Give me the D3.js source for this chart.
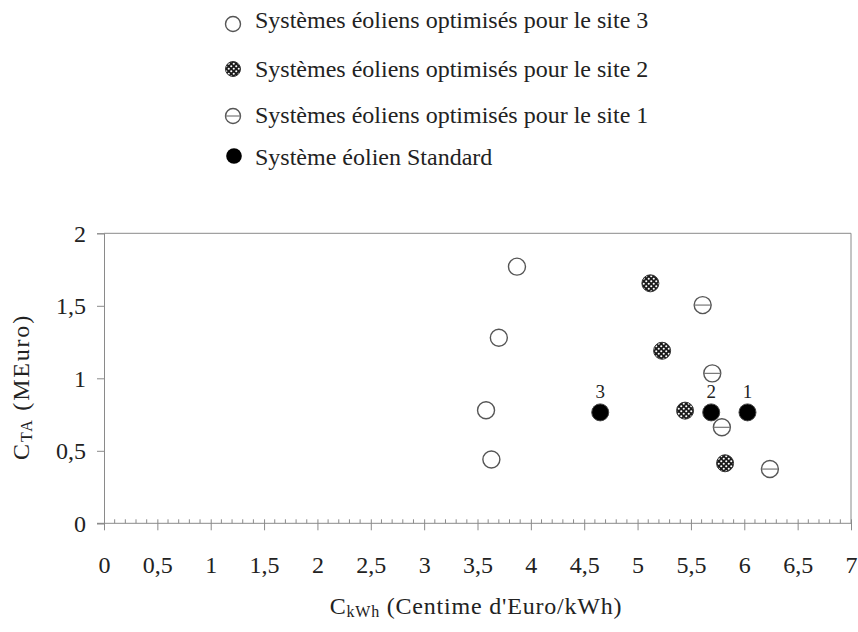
<!DOCTYPE html>
<html><head><meta charset="utf-8">
<script src="https://cdn.jsdelivr.net/npm/d3@7"></script>
<style>body{margin:0;background:#fff}svg{display:block}svg text{font-family:'Liberation Serif',serif !important;fill:#222}</style>
</head><body><svg id="c" width="858" height="632"></svg>
<script>
const xTicks = [0,0.5,1,1.5,2,2.5,3,3.5,4,4.5,5,5.5,6,6.5,7];
const yTicks = [0,0.5,1,1.5,2];
const site3X = [3.87,3.70,3.58,3.63];
const site3Y = [1.77,1.28,0.78,0.44];
const site2X = [5.12,5.23,5.445,5.82];
const site2Y = [1.655,1.19,0.777,0.414];
const site1X = [5.61,5.70,5.79,6.24];
const site1Y = [1.505,1.034,0.662,0.374];
const stdX = [4.65,5.69,6.03];
const stdY = [0.765,0.765,0.765];
const stdLabels = ["3","2","1"];
const legendLabels = ["Systèmes éoliens optimisés pour le site 3","Systèmes éoliens optimisés pour le site 2","Systèmes éoliens optimisés pour le site 1","Système éolien Standard"];

const svg = d3.select("#c");
const fmt = d => String(d).replace(".", ",");
const x = d3.scaleLinear().domain([0,7]).range([104,851]);
const y = d3.scaleLinear().domain([0,2]).range([523.3,233.3]);
const AX = "#8a8a8a";

const defs = svg.append("defs");
const pat = defs.append("pattern").attr("id","dots").attr("patternUnits","userSpaceOnUse")
  .attr("width",5).attr("height",5);
pat.append("rect").attr("width",5).attr("height",5).attr("fill","#1a1a1a");
pat.append("circle").attr("cx",1.25).attr("cy",1.25).attr("r",1.05).attr("fill","#fff");
pat.append("circle").attr("cx",3.75).attr("cy",3.75).attr("r",1.05).attr("fill","#fff");

// frame: top & right
svg.append("line").attr("x1",x(0)).attr("x2",x(7)).attr("y1",y(2)).attr("y2",y(2)).attr("stroke",AX);
svg.append("line").attr("x1",x(7)).attr("x2",x(7)).attr("y1",y(2)).attr("y2",y(0)).attr("stroke",AX);

// y axis
const ya = svg.append("g").attr("transform",`translate(${x(0)},0)`)
  .call(d3.axisLeft(y).tickValues(yTicks).tickFormat(fmt).tickSize(7).tickPadding(11));
ya.select(".domain").attr("stroke",AX);
ya.selectAll(".tick line").attr("stroke",AX);
ya.selectAll("text").attr("font-size",24).attr("dy","0.33em");

// x axis minor ticks
const minor = d3.range(0,71).map(i=>i/10).filter(v=>Math.round(v*10)%5!==0);
svg.append("g").selectAll("line").data(minor).join("line")
  .attr("x1",d=>x(d)).attr("x2",d=>x(d)).attr("y1",y(0)-4).attr("y2",y(0))
  .attr("stroke",AX);
const xa = svg.append("g").attr("transform",`translate(0,${y(0)})`)
  .call(d3.axisBottom(x).tickValues(xTicks).tickFormat(fmt).tickSize(7).tickPadding(0));
xa.select(".domain").attr("stroke",AX).attr("d",`M${x(0)-7},0H${x(7)}`);
xa.selectAll(".tick line").attr("stroke",AX).attr("y1",-4);
xa.selectAll("text").attr("font-size",24).attr("y",49.5).attr("dy",null);

// axis titles
const xt = svg.append("text").attr("x",476).attr("y",614).attr("text-anchor","middle")
  .attr("font-size",24).attr("letter-spacing",0.8);
xt.append("tspan").text("C");
xt.append("tspan").attr("font-size",16).attr("dy",3).text("kWh");
xt.append("tspan").attr("dy",-3).text(" (Centime d'Euro/kWh)");
const yt = svg.append("text").attr("transform","translate(29,387) rotate(-90)").attr("text-anchor","middle")
  .attr("font-size",24).attr("letter-spacing",1.8);
yt.append("tspan").text("C");
yt.append("tspan").attr("font-size",16).attr("dy",3).text("TA");
yt.append("tspan").attr("dy",-3).text(" (MEuro)");

const R = 8.5;
function open(g){ g.attr("fill","#fff").attr("stroke","#555").attr("stroke-width",1.4); }
svg.append("g").selectAll("circle").data(site3X).join("circle")
  .attr("cx",d=>x(d)).attr("cy",(d,i)=>y(site3Y[i])).attr("r",R).call(open);
svg.append("g").selectAll("circle").data(site2X).join("circle")
  .attr("cx",d=>x(d)).attr("cy",(d,i)=>y(site2Y[i])).attr("r",R)
  .attr("fill","url(#dots)").attr("stroke","#333").attr("stroke-width",1);
svg.append("g").selectAll("circle").data(stdX).join("circle")
  .attr("cx",d=>x(d)).attr("cy",(d,i)=>y(stdY[i])).attr("r",R)
  .attr("fill","#000").attr("stroke","#444").attr("stroke-width",1);
svg.append("g").selectAll("text").data(stdX).join("text")
  .attr("x",d=>x(d)).attr("y",(d,i)=>y(stdY[i])-14).attr("text-anchor","middle")
  .attr("font-size",19).text((d,i)=>stdLabels[i]);
const s1 = svg.append("g").selectAll("g").data(site1X).join("g")
  .attr("transform",(d,i)=>`translate(${x(d)},${y(site1Y[i])})`);
s1.append("circle").attr("r",R).call(open);
s1.append("line").attr("x1",-R).attr("x2",R).attr("stroke","#777").attr("stroke-width",1.2);

// legend
const ly = [24,69,116,156];
const lb = [28,77,123,165];
const lg = svg.append("g");
legendLabels.forEach((t,i)=>{
  const cx = 233, cy = ly[i];
  if(i===0){ lg.append("circle").attr("cx",cx).attr("cy",cy).attr("r",7.5).call(open); }
  else if(i===1){ lg.append("circle").attr("cx",cx).attr("cy",cy).attr("r",7.5).attr("fill","url(#dots)").attr("stroke","#333").attr("stroke-width",1); }
  else if(i===2){ lg.append("circle").attr("cx",cx).attr("cy",cy).attr("r",7.5).call(open);
    lg.append("line").attr("x1",cx-7.5).attr("x2",cx+7.5).attr("y1",cy).attr("y2",cy).attr("stroke","#777").attr("stroke-width",1.2); }
  else { lg.append("circle").attr("cx",cx+1).attr("cy",cy).attr("r",7.8).attr("fill","#000"); }
  lg.append("text").attr("x",255).attr("y",lb[i]).attr("font-size",24).text(t);
});
</script></body></html>
